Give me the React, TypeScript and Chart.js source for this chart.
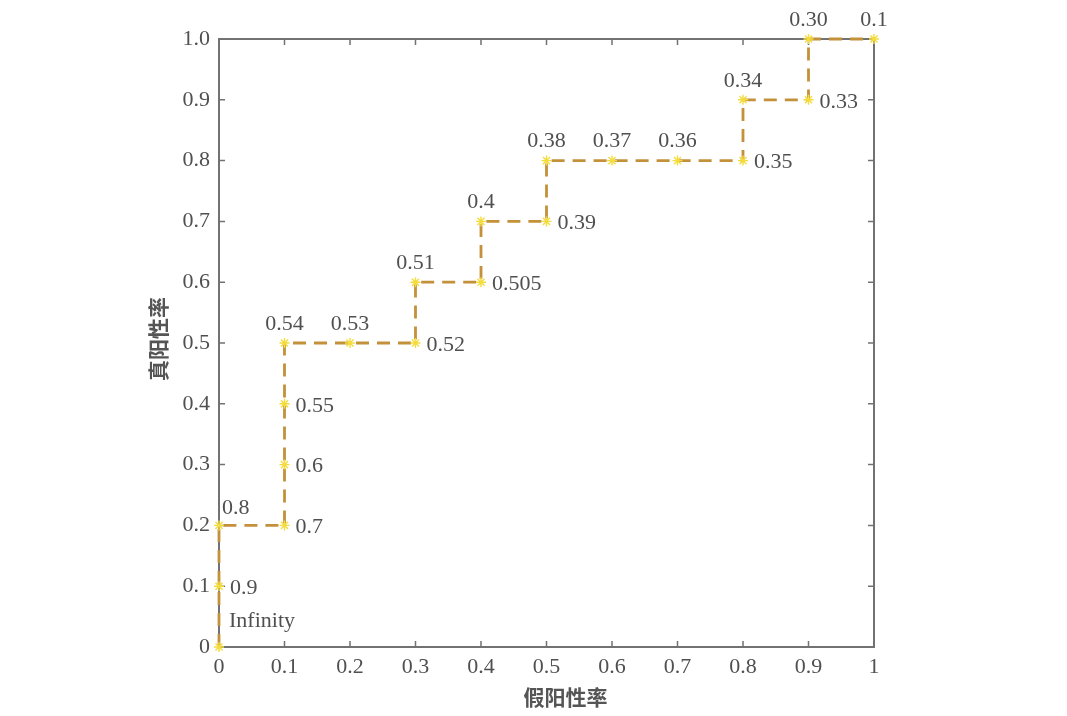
import React, { useEffect, useRef } from "react";
import { Chart, registerables } from "chart.js";

Chart.register(...registerables);

const fpr = [0, 0, 0, 0.1, 0.1, 0.1, 0.1, 0.2, 0.3, 0.3, 0.4, 0.4, 0.5, 0.5, 0.6, 0.7, 0.8, 0.8, 0.9, 0.9, 1.0];
const tpr = [0, 0.1, 0.2, 0.2, 0.3, 0.4, 0.5, 0.5, 0.5, 0.6, 0.6, 0.7, 0.7, 0.8, 0.8, 0.8, 0.8, 0.9, 0.9, 1.0, 1.0];
const thresholdLabels = [
  "Infinity", "0.9", "0.8", "0.7", "0.6", "0.55", "0.54", "0.53", "0.52", "0.51", "0.505",
  "0.4", "0.39", "0.38", "0.37", "0.36", "0.35", "0.34", "0.33", "0.30", "0.1",
];
const labelPlacement = [
  "upRight", "right", "aboveRight", "right", "right", "right", "above", "above", "right", "above", "right",
  "above", "right", "above", "above", "above", "right", "above", "right", "above", "above",
];
const xTickValues = [0, 0.1, 0.2, 0.3, 0.4, 0.5, 0.6, 0.7, 0.8, 0.9, 1];
const xTickLabels = ["0", "0.1", "0.2", "0.3", "0.4", "0.5", "0.6", "0.7", "0.8", "0.9", "1"];
const yTickValues = [0, 0.1, 0.2, 0.3, 0.4, 0.5, 0.6, 0.7, 0.8, 0.9, 1];
const yTickLabels = ["0", "0.1", "0.2", "0.3", "0.4", "0.5", "0.6", "0.7", "0.8", "0.9", "1.0"];
const xTitle = "假阳性率";
const yTitle = "真阳性率";

const TEXT = "#505050";
const FRAME = "#727272";
const SERIF = "'Liberation Serif', 'DejaVu Serif', serif";
const CJK = "'Noto Sans CJK SC', sans-serif";

const framePlugin = {
  id: "frame",
  beforeDatasetsDraw(chart: any) {
    const { ctx, chartArea, scales } = chart;
    const { left, right, top, bottom } = chartArea;
    ctx.save();
    ctx.strokeStyle = FRAME;
    ctx.lineWidth = 2;
    ctx.strokeRect(left, top, right - left, bottom - top);
    const tl = 6;
    ctx.lineWidth = 1.5;
    ctx.beginPath();
    xTickValues.forEach((v) => {
      if (v <= 0 || v >= 1) return;
      const x = scales.x.getPixelForValue(v);
      ctx.moveTo(x, bottom);
      ctx.lineTo(x, bottom - tl);
      ctx.moveTo(x, top);
      ctx.lineTo(x, top + tl);
    });
    yTickValues.forEach((v) => {
      if (v <= 0 || v >= 1) return;
      const y = scales.y.getPixelForValue(v);
      ctx.moveTo(left, y);
      ctx.lineTo(left + tl, y);
      ctx.moveTo(right, y);
      ctx.lineTo(right - tl, y);
    });
    ctx.stroke();
    ctx.restore();
  },
  afterDraw(chart: any) {
    const { ctx, chartArea } = chart;
    ctx.save();
    ctx.fillStyle = "#555555";
    ctx.font = `bold 21px ${CJK}`;
    ctx.textAlign = "center";
    ctx.textBaseline = "middle";
    ctx.fillText(xTitle, (chartArea.left + chartArea.right) / 2 + 19, chartArea.bottom + 50);
    ctx.translate(chartArea.left - 61, (chartArea.top + chartArea.bottom) / 2 - 4);
    ctx.rotate(-Math.PI / 2);
    ctx.fillText(yTitle, 0, 0);
    ctx.restore();
  },
};

const pointLabelPlugin = {
  id: "pointLabels",
  afterDatasetsDraw(chart: any) {
    const { ctx, scales } = chart;
    ctx.save();
    ctx.fillStyle = TEXT;
    ctx.font = `22px ${SERIF}`;
    ctx.textBaseline = "middle";
    thresholdLabels.forEach((t, i) => {
      const x = scales.x.getPixelForValue(fpr[i]);
      const y = scales.y.getPixelForValue(tpr[i]);
      const p = labelPlacement[i];
      if (p === "above") {
        ctx.textAlign = "center";
        ctx.fillText(t, x, y - 19);
      } else if (p === "right") {
        ctx.textAlign = "left";
        ctx.fillText(t, x + 11, y + 2);
      } else if (p === "aboveRight") {
        ctx.textAlign = "left";
        ctx.fillText(t, x + 3, y - 17);
      } else {
        ctx.textAlign = "left";
        ctx.fillText(t, x + 10, y - 26);
      }
    });
    ctx.restore();
  },
};

export default function App() {
  const ref = useRef<HTMLCanvasElement | null>(null);
  useEffect(() => {
    if (!ref.current) return;
    const chart = new Chart(ref.current, {
      type: "line",
      data: {
        datasets: [
          {
            data: fpr.map((x, i) => ({ x, y: tpr[i] })),
            borderColor: "#c3913a",
            borderWidth: 2.8,
            borderDash: [13, 8],
            fill: false,
            tension: 0,
            pointStyle: "star",
            pointRadius: 5,
            pointBorderColor: "#f4dc3c",
            pointBackgroundColor: "#f4dc3c",
            pointBorderWidth: 1.4,
            clip: false as any,
          },
        ],
      },
      plugins: [framePlugin, pointLabelPlugin],
      options: {
        responsive: false,
        animation: false,
        layout: { padding: { left: 0, top: 39, right: 193, bottom: 0 } },
        plugins: { legend: { display: false }, tooltip: { enabled: false }, title: { display: false } },
        scales: {
          x: {
            type: "linear",
            min: 0,
            max: 1,
            grid: { display: false, drawTicks: false },
            border: { display: false },
            afterBuildTicks: (s: any) => {
              s.ticks = xTickValues.map((v) => ({ value: v }));
            },
            afterFit: (s: any) => {
              s.height = 69;
            },
            ticks: {
              padding: 7,
              color: TEXT,
              font: { family: SERIF, size: 22 },
              maxRotation: 0,
              autoSkip: false,
              callback: (v: any) => {
                const i = xTickValues.findIndex((t) => Math.abs(t - Number(v)) < 1e-9);
                return i >= 0 ? xTickLabels[i] : "";
              },
            },
          },
          y: {
            type: "linear",
            min: 0,
            max: 1,
            grid: { display: false, drawTicks: false },
            border: { display: false },
            afterBuildTicks: (s: any) => {
              s.ticks = yTickValues.map((v) => ({ value: v }));
            },
            afterFit: (s: any) => {
              s.width = 219;
            },
            ticks: {
              padding: 9,
              color: TEXT,
              font: { family: SERIF, size: 22 },
              autoSkip: false,
              callback: (v: any) => {
                const i = yTickValues.findIndex((t) => Math.abs(t - Number(v)) < 1e-9);
                return i >= 0 ? yTickLabels[i] : "";
              },
            },
          },
        },
      },
    });
    return () => chart.destroy();
  }, []);
  return (
    <div style={{ position: "absolute", left: 0, top: 0, width: 1067, height: 716, background: "#fff" }}>
      <canvas ref={ref} width={1067} height={716} style={{ display: "block" }} />
    </div>
  );
}
